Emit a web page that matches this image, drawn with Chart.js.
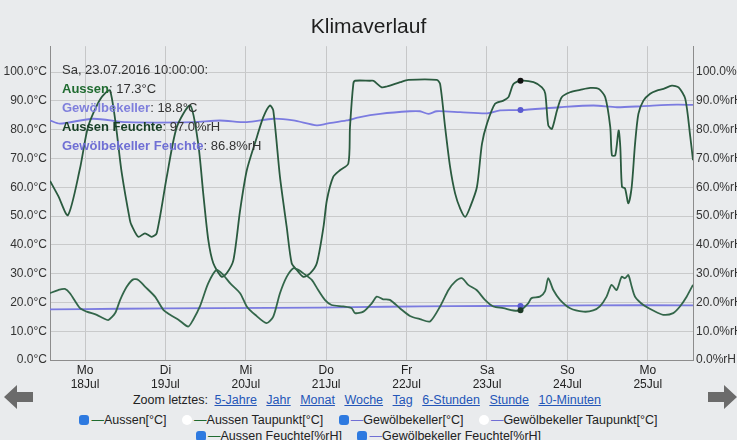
<!DOCTYPE html>
<html>
<head>
<meta charset="utf-8">
<script src="https://cdn.jsdelivr.net/npm/chart.js@4/dist/chart.umd.min.js"></script>
<style>
  html, body { margin: 0; padding: 0; background: #e9ebed; }
  body { width: 737px; height: 440px; position: relative; overflow: hidden;
         font-family: "Liberation Sans", Arial, Helvetica, sans-serif; color: #222; }
  #wrap { position: absolute; left: 0; top: 0; width: 737px; height: 392px; }
  #info { position: absolute; left: 62px; top: 60px; font-size: 13px; line-height: 19px; color: #333; }
  #info b { font-weight: bold; }
  .c-aus { color: #1f6b30; }
  .c-gew { color: #7f7fdc; }
  .c-ausf { color: #173f26; }
  .c-gewf { color: #6f6fd4; }
  #zoom { position: absolute; left: 0; width: 737px; top: 393px; text-align: center; font-size: 12.5px; }
  #zoom a { color: #2456b8; text-decoration: underline; margin: 0 3px; }
  .leg { position: absolute; left: 0; width: 737px; text-align: center; font-size: 12.5px; white-space: nowrap; }
  .leg span.item { margin: 0 6px; }
  .cb { display: inline-block; width: 10px; height: 10px; border-radius: 3px; vertical-align: -1px; margin-right: 2px; }
  .cb.on { background: #2e7ae0; }
  .cb.off { background: #fff; border-radius: 5px; }
  .dash-g { color: #1f6b30; }
  .dash-b { color: #6f6fd4; }
  .arrow { position: absolute; top: 384px; }
</style>
</head>
<body>
<div id="wrap"><canvas id="klima" width="737" height="392"></canvas></div>

<div id="info">
  <div>Sa, 23.07.2016 10:00:00:</div>
  <div><b class="c-aus">Aussen</b>: 17.3°C</div>
  <div><b class="c-gew">Gewölbekeller</b>: 18.8°C</div>
  <div><b class="c-ausf">Aussen Feuchte</b>: 97.0%rH</div>
  <div><b class="c-gewf">Gewölbekeller Feuchte</b>: 86.8%rH</div>
</div>

<div id="zoom">Zoom letztes:
  <a>5-Jahre</a> <a>Jahr</a> <a>Monat</a> <a>Woche</a> <a>Tag</a> <a>6-Stunden</a> <a>Stunde</a> <a>10-Minuten</a>
</div>
<div class="leg" style="top:413px">
  <span class="item"><span class="cb on"></span><span class="dash-g">—</span>Aussen[°C]</span>
  <span class="item"><span class="cb off"></span><span class="dash-g">—</span>Aussen Taupunkt[°C]</span>
  <span class="item"><span class="cb on"></span><span class="dash-b">—</span>Gewölbekeller[°C]</span>
  <span class="item"><span class="cb off"></span><span class="dash-b">—</span>Gewölbekeller Taupunkt[°C]</span>
</div>
<div class="leg" style="top:429px">
  <span class="item"><span class="cb on"></span><span class="dash-g">—</span>Aussen Feuchte[%rH]</span>
  <span class="item"><span class="cb on"></span><span class="dash-b">—</span>Gewölbekeller Feuchte[%rH]</span>
</div>

<svg class="arrow" style="left:4px" width="30" height="26" viewBox="0 0 30 26">
  <polygon points="0,13 13,1 13,8 29,8 29,18 13,18 13,25" fill="#6b6b6b"/>
</svg>
<svg class="arrow" style="left:707px" width="30" height="26" viewBox="0 0 30 26">
  <polygon points="30,13 17,1 17,8 1,8 1,18 17,18 17,25" fill="#6b6b6b"/>
</svg>

<script>
// x values are hours since Mo 18.07.2016 00:00
const dayHours = [0, 24, 48, 72, 96, 120, 144, 168];
const dayNames = ["Mo", "Di", "Mi", "Do", "Fr", "Sa", "So", "Mo"];
const dayDates = ["18Jul", "19Jul", "20Jul", "21Jul", "22Jul", "23Jul", "24Jul", "25Jul"];
const yTicks = [0, 10, 20, 30, 40, 50, 60, 70, 80, 90, 100];
const markHour = 130; // Sa 23.07. 10:00

// [hour, °C]
const aussenTemp = [
  [-10.45, 23.2], [-8, 24.3], [-6, 24.7], [-4.5, 23.2], [-1.5, 18.0], [0.5, 16.8], [3.5, 15.7],
  [5.5, 14.5], [7, 13.9], [9, 16.3], [10.5, 20.9], [12.5, 25.5], [14.4, 28.0], [15.9, 27.8],
  [17.9, 25.5], [20.9, 22.0], [23.4, 17.4], [25.4, 15.7], [27.9, 14.0], [30.8, 11.6], [32.3, 14.0],
  [34.3, 18.6], [36.8, 26.7], [39.3, 31.3], [41.3, 29.5], [43.3, 26.7], [46.3, 23.2], [48.3, 18.6],
  [50.8, 15.7], [54.2, 12.8], [56.2, 15.1], [58.2, 23.2], [60.2, 28.9], [62.2, 31.9], [63.7, 31.3],
  [65.2, 30.1], [67.7, 27.8], [69.6, 24.3], [71.6, 20.9], [73.6, 19.1], [77.1, 18.6], [79.6, 18.0],
  [80.6, 16.3], [83.1, 16.8], [85.6, 19.7], [87.1, 22.0], [89, 21.1], [91, 20.9], [94, 18.0],
  [97, 15.3], [100, 14.2], [103, 13.4], [106, 18.6], [108.5, 24.3], [110.5, 27.2], [112.5, 28.4],
  [114.4, 26.1], [116.9, 24.3], [119.4, 20.9], [121.9, 18.6], [124.9, 18.0], [127.9, 17.2],
  [130, 17.3], [132.3, 19.7], [133.3, 21.5], [135.8, 22.0], [137.3, 23.8], [138.3, 28.4],
  [139.8, 24.3], [141.8, 20.9], [144.8, 18.0], [148.8, 16.8], [151.7, 17.2], [153.7, 18.6],
  [155.7, 22.0], [157.2, 26.1], [158.7, 24.3], [160.2, 28.9], [161.2, 28.4], [162.2, 29.5],
  [163.2, 25.5], [164.2, 22.0], [166.7, 19.1], [169.6, 17.2], [172.6, 15.7], [175.6, 16.3],
  [177.6, 18.6], [179.6, 22.0], [181.5, 26.1]
];

// [hour, °C]
const kellerTemp = [
  [-10.45, 17.6], [10, 17.8], [40, 18.0], [70, 18.2], [90, 18.5], [110, 18.7], [130, 18.8],
  [150, 19.0], [181.5, 19.0]
];

// [hour, %rH]
const aussenFeuchte = [
  [-10.45, 62.2], [-8, 57.0], [-5.1, 50.3], [-1.5, 66.5], [0.9, 80.9], [4.5, 90.5], [7.5, 93.6],
  [11, 64.7], [13.4, 48.6], [13.9, 46.8], [15.9, 42.8], [17.9, 44.0], [19.9, 42.8], [21.4, 44.0],
  [24.4, 63.6], [27.4, 80.9], [31.4, 88.4], [33.8, 75.1], [35.3, 57.8], [36.8, 41.7], [38.3, 33.6],
  [40.8, 28.9], [42.3, 30.1], [44.3, 34.7], [46.3, 52.0], [48.3, 65.9], [51.3, 77.4], [53.2, 84.3],
  [55.2, 88.4], [56.2, 86.7], [58.2, 63.6], [60.2, 46.3], [61.7, 33.6], [63.2, 31.3], [65.2, 28.9],
  [67.2, 30.1], [69.2, 33.6], [71.2, 46.3], [72.2, 55.5], [74.1, 63.6], [76.1, 65.9], [78.6, 68.2],
  [79.1, 80.9], [80.1, 95.9], [80.6, 97.0], [85.1, 97.0], [86.1, 97.0], [88.6, 94.7], [90.1, 95.0],
  [94.1, 96.5], [96.5, 97.3], [105, 97.3], [106, 95.9], [107.5, 80.9], [109, 67.0], [110.5, 57.8],
  [112, 52.6], [113.5, 49.7], [115, 53.2], [117, 60.1], [118.5, 75.1], [120, 82.1], [122.4, 89.0],
  [124.9, 90.1], [126.4, 91.3], [127.9, 95.9], [130, 97.0], [133.9, 96.5], [136.4, 94.7],
  [137.4, 92.5], [138.3, 81.5], [139.4, 80.3], [140.9, 86.7], [142.3, 91.3], [144.8, 93.0],
  [147.8, 93.8], [150.8, 94.5], [153.3, 94.2], [155.3, 91.3], [156.8, 80.9], [157.3, 71.1],
  [158.3, 71.1], [159.3, 79.7], [159.8, 74.0], [160.3, 60.1], [161.2, 59.6], [162.2, 54.4],
  [163.2, 60.1], [164.2, 75.1], [165.2, 85.5], [166.7, 90.1], [168.7, 92.5], [170.7, 93.6],
  [172.7, 94.2], [175.2, 95.3], [177.2, 94.7], [179.2, 90.7], [180.7, 77.4], [181.5, 69.4]
];

// [hour, %rH]
const kellerFeuchte = [
  [-10.45, 83.2], [-7.5, 82.1], [2.4, 83.8], [12.5, 82.6], [32.3, 82.6], [40.3, 83.2], [48.3, 82.6],
  [56.2, 83.8], [62.2, 83.2], [69.2, 81.5], [72.2, 82.1], [78.1, 83.2], [82.1, 84.4], [88.1, 85.5],
  [97, 86.4], [100, 86.4], [102.5, 85.5], [105, 86.4], [112, 86.1], [120, 85.7], [123.9, 86.7],
  [130, 86.8], [141.8, 87.8], [151.8, 88.4], [158.8, 87.8], [166.7, 88.2], [176.7, 88.7], [181.5, 88.6]
];

const GREEN = "#33664a";
const GREEN_DARK = "#2a5a3f";
const BLUE = "#7b7be0";
const FONT = "'Liberation Sans', Arial, Helvetica, sans-serif";

function pts(arr) {
  return arr.map(([x, y]) => ({ x, y }));
}

function markRadius(ctx) {
  return ctx.raw && ctx.raw.x === markHour ? 3 : 0;
}

function series(label, arr, color, axis, dot) {
  return {
    label,
    data: pts(arr),
    yAxisID: axis,
    borderColor: color,
    borderWidth: 1.8,
    tension: 0.25,
    pointRadius: markRadius,
    pointBackgroundColor: dot,
    pointBorderWidth: 0,
    fill: false,
  };
}

function yAxis(position, unit, width, showGrid) {
  return {
    type: "linear",
    position,
    min: 0,
    max: 109,
    afterBuildTicks: (s) => { s.ticks = yTicks.map((v) => ({ value: v })); },
    afterFit: (s) => { s.width = width; },
    grid: { display: showGrid, color: "#c9cacb", drawTicks: false },
    border: { color: "#8c8c8c" },
    ticks: {
      padding: 3,
      color: "#333",
      font: { family: FONT, size: 12 },
      callback: (v) => v.toFixed(1) + unit,
    },
  };
}

new Chart(document.getElementById("klima"), {
  type: "line",
  data: {
    datasets: [
      series("Aussen[°C]", aussenTemp, GREEN, "y", "#1d3a26"),
      series("Gewölbekeller[°C]", kellerTemp, BLUE, "y", "#5a5ad0"),
      series("Aussen Feuchte[%rH]", aussenFeuchte, GREEN_DARK, "y1", "#111"),
      series("Gewölbekeller Feuchte[%rH]", kellerFeuchte, BLUE, "y1", "#5a5ad0"),
    ],
  },
  options: {
    responsive: false,
    animation: false,
    devicePixelRatio: 1,
    layout: { padding: 0 },
    plugins: {
      legend: { display: false },
      tooltip: { enabled: false },
      title: {
        display: true,
        text: "Klimaverlauf",
        color: "#1e1e1e",
        font: { family: FONT, size: 21, weight: "normal" },
        padding: { top: 15, bottom: 6 },
      },
    },
    scales: {
      x: {
        type: "linear",
        min: -10.45,
        max: 181.5,
        afterBuildTicks: (s) => { s.ticks = dayHours.map((v) => ({ value: v })); },
        afterFit: (s) => { s.height = 32; },
        grid: { color: "#c6c7c8", drawTicks: false },
        border: { color: "#8c8c8c" },
        ticks: {
          padding: 3,
          color: "#222",
          maxRotation: 0,
          font: { family: FONT, size: 12 },
          callback: (v, i) => [dayNames[i], dayDates[i]],
        },
      },
      y: yAxis("left", "°C", 50, true),
      y1: yAxis("right", "%rH", 44, false),
    },
  },
});
</script>
</body>
</html>
